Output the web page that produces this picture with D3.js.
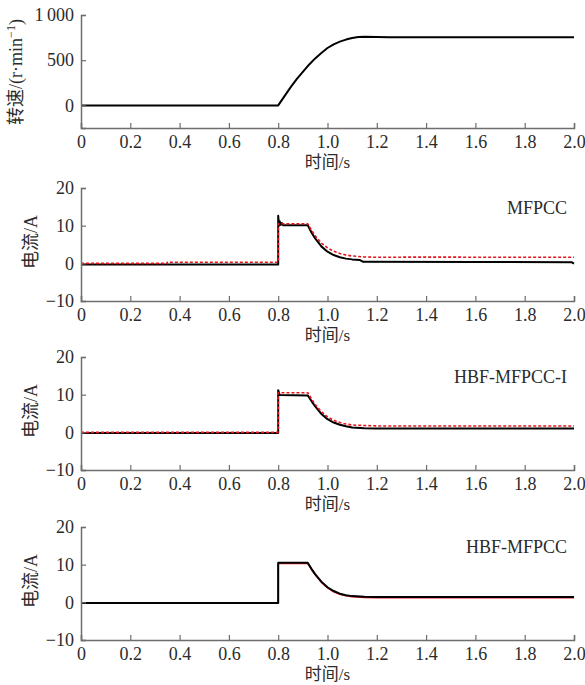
<!DOCTYPE html>
<html>
<head>
<meta charset="utf-8">
<script src="https://cdn.jsdelivr.net/npm/d3@7"></script>
<style>
  body { margin: 0; background: #fff; }
</style>
</head>
<body>
<div id="chart"></div>
<script>
// 横轴刻度
const timeTicks = [0, 0.2, 0.4, 0.6, 0.8, 1.0, 1.2, 1.4, 1.6, 1.8, 2.0];
const speedTicks = [0, 500, 1000];
const currentTicks = [-10, 0, 10, 20];

// 转速曲线 [t, r/min]
const speedData = [
  [0, 0], [0.8, 0], [0.825, 100], [0.85, 200], [0.875, 290], [0.9, 370],
  [0.925, 450], [0.95, 520], [0.975, 580], [1.0, 635], [1.025, 675],
  [1.05, 705], [1.075, 728], [1.1, 745], [1.125, 756], [1.15, 760],
  [1.2, 756], [1.25, 753], [2.0, 753]
];

// MFPCC
const mfpccActual = [
  [0, -0.3], [0.8, -0.3], [0.8, 12.6], [0.803, 10.0], [0.806, 11.2], [0.81, 10.2],
  [0.815, 10.7], [0.82, 10.1], [0.92, 10.1], [0.935, 8.2], [0.95, 6.6],
  [0.975, 4.5], [1.0, 3.1], [1.025, 2.2], [1.05, 1.6], [1.075, 1.25],
  [1.1, 1.05], [1.13, 0.9], [1.145, 0.4], [1.6, 0.35], [1.99, 0.3], [2.0, -0.1]
];
const mfpccRef = [
  [0, 0], [0.35, 0], [0.35, 0.3], [0.8, 0.3], [0.8, 10.5], [0.92, 10.5],
  [0.935, 8.8], [0.95, 7.3], [0.975, 5.4], [1.0, 4.1], [1.025, 3.2],
  [1.05, 2.6], [1.075, 2.2], [1.1, 1.95], [1.15, 1.7], [1.2, 1.6],
  [1.35, 1.65], [2.0, 1.6]
];

// HBF-MFPCC-I
const hbfIActual = [
  [0, -0.2], [0.8, -0.2], [0.8, 11.2], [0.806, 9.9], [0.92, 9.8],
  [0.935, 8.3], [0.95, 6.9], [0.975, 4.9], [1.0, 3.5], [1.025, 2.6],
  [1.05, 2.0], [1.075, 1.6], [1.1, 1.3], [1.15, 1.1], [1.2, 1.0], [2.0, 1.0]
];
const hbfIRef = [
  [0, 0], [0.8, 0], [0.8, 10.5], [0.92, 10.5], [0.935, 8.9], [0.95, 7.4],
  [0.975, 5.5], [1.0, 4.1], [1.025, 3.2], [1.05, 2.6], [1.075, 2.2],
  [1.1, 1.95], [1.15, 1.8], [1.2, 1.7], [2.0, 1.7]
];

// HBF-MFPCC
const hbfActual = [
  [0, -0.2], [0.8, -0.2], [0.8, 10.5], [0.92, 10.5], [0.935, 8.9],
  [0.95, 7.5], [0.975, 5.5], [1.0, 4.0], [1.025, 3.0], [1.05, 2.3],
  [1.075, 1.9], [1.1, 1.65], [1.15, 1.45], [1.2, 1.4], [2.0, 1.4]
];
const hbfRef = [
  [0, -0.2], [0.8, -0.2], [0.8, 10.3], [0.92, 10.3], [0.935, 8.7],
  [0.95, 7.3], [0.975, 5.3], [1.0, 3.8], [1.025, 2.8], [1.05, 2.1],
  [1.075, 1.7], [1.1, 1.45], [1.15, 1.25], [1.2, 1.2], [2.0, 1.2]
];

const W = 585, H = 685;
const left = 81, right = 574, ph = 113;
const axisColor = "#6e6e6e";
const textColor = "#2b2b2b";
const serif = "'Liberation Serif', 'Times New Roman', 'Noto Sans CJK SC', serif";

const svg = d3.select("#chart").append("svg")
  .attr("width", W)
  .attr("height", H);

const x = d3.scaleLinear().domain([0, 2]).range([left, right]);
const fmtT = d => d === 0 ? "0" : d3.format(".1f")(d);
const fmtI = d => d < 0 ? "\u2212" + (-d) : String(d);

const panels = [
  { top: 15, domain: [-250, 1000], ticks: speedTicks, fmt: d => d === 1000 ? "1\u2009000" : String(d),
    lines: [{ data: speedData, color: "#000", dash: null, w: 2 }] },
  { top: 188, domain: [-10, 20], ticks: currentTicks, fmt: fmtI, title: "MFPCC",
    lines: [{ data: mfpccActual, color: "#000", dash: null, w: 2 },
            { data: mfpccRef, color: "#e8141c", dash: "3,2", w: 1.6 }] },
  { top: 357, domain: [-10, 20], ticks: currentTicks, fmt: fmtI, title: "HBF-MFPCC-I",
    lines: [{ data: hbfIActual, color: "#000", dash: null, w: 2 },
            { data: hbfIRef, color: "#e8141c", dash: "3,2", w: 1.6 }] },
  { top: 527, domain: [-10, 20], ticks: currentTicks, fmt: fmtI, title: "HBF-MFPCC",
    lines: [{ data: hbfRef, color: "#e8141c", dash: null, w: 1.4 },
            { data: hbfActual, color: "#000", dash: null, w: 2 }] }
];

function label(g, txt) {
  return g.append("text")
    .attr("font-family", serif)
    .style("font-family", serif)
    .style("font-size", "18px")
    .style("font-weight", "normal")
    .attr("fill", textColor)
    .text(txt);
}

panels.forEach((p, i) => {
  const y = d3.scaleLinear().domain(p.domain).range([p.top + ph, p.top]);
  const g = svg.append("g");

  // 曲线
  const line = d3.line().x(d => x(d[0])).y(d => y(d[1]));
  p.lines.forEach(l => {
    g.append("path")
      .attr("d", line(l.data))
      .attr("fill", "none")
      .attr("stroke", l.color)
      .attr("stroke-width", l.w)
      .attr("stroke-dasharray", l.dash)
      .attr("stroke-linejoin", "round");
  });

  // x 轴
  const xa = g.append("g")
    .attr("transform", `translate(0,${p.top + ph})`)
    .call(d3.axisBottom(x).tickValues(timeTicks).tickFormat(fmtT).tickSize(-5).tickPadding(7));
  // y 轴
  const ya = g.append("g")
    .attr("transform", `translate(${left},0)`)
    .call(d3.axisLeft(y).tickValues(p.ticks).tickFormat(p.fmt).tickSize(-5).tickPadding(7));

  [xa, ya].forEach(a => {
    a.attr("font-family", serif).attr("font-size", 18);
    a.select(".domain").attr("stroke", axisColor).attr("stroke-width", 1.5);
    a.selectAll(".tick line").attr("stroke", axisColor).attr("stroke-width", 1.2);
    a.selectAll(".tick text")
      .attr("fill", textColor)
      .style("font-family", serif)
      .style("font-size", "18px");
  });

  // 横轴标题
  label(g, "时间/s")
    .attr("x", x(1.0))
    .attr("y", p.top + ph + 40)
    .attr("text-anchor", "middle")
    .style("font-size", "17px");

  // 纵轴标题
  if (i === 0) {
    const t = label(g, null)
      .attr("transform", `translate(22,${p.top + 57}) rotate(-90)`)
      .attr("text-anchor", "middle");
    t.append("tspan").text("转速/(r·min");
    t.append("tspan").attr("dy", -7).style("font-size", "12px").text("\u22121");
    t.append("tspan").attr("dy", 7).text(")");
  } else {
    label(g, "电流/A")
      .attr("transform", `translate(37,${p.top + 54}) rotate(-90)`)
      .attr("text-anchor", "middle");
    label(g, p.title)
      .attr("x", 567)
      .attr("y", p.top + 26)
      .attr("text-anchor", "end");
  }
});
</script>
</body>
</html>
